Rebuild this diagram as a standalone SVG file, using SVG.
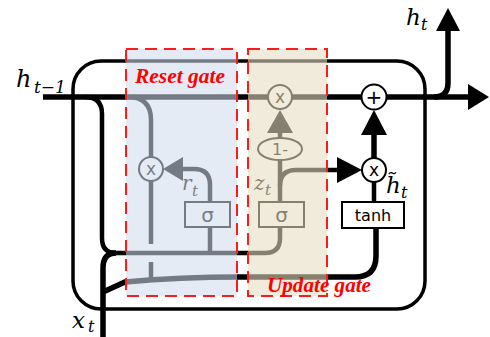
<svg xmlns="http://www.w3.org/2000/svg" width="490" height="337" viewBox="0 0 490 337">
<style>
.ln{fill:none;stroke:#000;stroke-width:4.5;stroke-linecap:butt}
.thick{stroke-width:5.5}
.box{fill:none;stroke:#000;stroke-width:3.5}
.ah{fill:#000;stroke:none}
.op{fill:#fff;stroke:#000;stroke-width:2}
.sym{font-family:"DejaVu Sans",sans-serif;fill:#000;text-anchor:middle}
.m{font-family:"DejaVu Serif",serif;font-style:italic;fill:#000}
.gt{font-family:"Liberation Serif",serif;font-style:italic;font-weight:bold;fill:#ff0000;font-size:20px}
.dash{fill:none;stroke:#ff1a1a;stroke-width:2;stroke-dasharray:12 7}
</style>
<rect width="490" height="337" fill="#fff"/>
<g id="cell">
<rect class="box" x="73" y="61" width="352" height="248" rx="28"/>
</g>
<g id="connectors">
<path class="ln thick" d="M43,97 H470"/>
<polygon class="ah" points="468,84 489,97 468,110"/>
<path class="ln thick" d="M434,97 Q448,97 448,83 V30"/>
<polygon class="ah" points="436,31 448,8 460,31"/>
<path class="ln" d="M85,97 Q102,97 102,114 V238 Q102,253 116,253"/>
<path class="ln thick" d="M103,337 V268 Q103,253 116,253"/>
<path class="ln" d="M112,253 H265 Q280,253 280,238 V227"/>
<path class="ln" d="M210,253 V227"/>
<path class="ln" d="M210,202 V185 Q210,169 194,169 H180"/>
<polygon class="ah" points="163,169 183,157 183,181"/>
<path class="ln" d="M128,97 Q151,97 151,120 V157"/>
<path class="ln" d="M151,181 V244"/>
<path class="ln" d="M151,262 V281"/>
<path class="ln thick" d="M103,292 L125,282 Q180,277 240,277 H355 Q376,277 376,256 V228"/>
<path class="ln" d="M374,202 V182"/>
<path class="ln thick" d="M374,158 V133"/>
<polygon class="ah" points="374,110 361,135 387,135"/>
<path class="ln" d="M280,138 V131"/>
<polygon class="ah" points="280,110 267,133 293,133"/>
<path class="ln" d="M280,160 V202"/>
<path class="ln" d="M280,186 Q280,170 296,170 H339"/>
<polygon class="ah" points="362,170 337,157 337,183"/>
</g>
<g id="node-reset-mult">
<circle class="op" cx="151" cy="169" r="12"/>
<text class="sym" x="151" y="175" font-size="17">x</text>
</g>
<g id="node-reset-sigma">
<rect class="op" x="185" y="202" width="45" height="25"/>
<text class="sym" x="207.5" y="222" font-size="20">σ</text>
</g>
<g id="node-update-mult">
<circle class="op" cx="280" cy="97" r="12"/>
<text class="sym" x="280" y="103" font-size="17">x</text>
</g>
<g id="node-one-minus">
<ellipse class="op" cx="280" cy="149" rx="22" ry="11"/>
<text class="sym" x="280" y="155" font-size="16">1-</text>
</g>
<g id="node-update-sigma">
<rect class="op" x="259" y="202" width="45" height="25"/>
<text class="sym" x="281.5" y="222" font-size="20">σ</text>
</g>
<g id="node-plus">
<circle class="op" cx="374" cy="97" r="12.5"/>
<text class="sym" x="374" y="104" font-size="20">+</text>
</g>
<g id="node-cand-mult">
<circle class="op" cx="374" cy="170" r="12"/>
<text class="sym" x="374" y="176" font-size="17">x</text>
</g>
<g id="node-tanh">
<rect class="op" x="342" y="202" width="62" height="26" stroke-width="2.5"/>
<text class="sym" x="373" y="221" font-size="16">tanh</text>
</g>
<g id="labels-inner">
<text class="m" x="182" y="190" font-size="20">r</text>
<text class="m" x="192" y="196" font-size="15">t</text>
<text class="m" x="254" y="190" font-size="20">z</text>
<text class="m" x="265" y="195" font-size="15">t</text>
</g>
<g id="gates">
<rect x="126" y="49" width="111" height="247" fill="#d1dcec" fill-opacity="0.56"/>
<rect x="248" y="49" width="79" height="247" fill="#e5ddc1" fill-opacity="0.58"/>
<rect class="dash" x="126" y="49" width="111" height="247"/>
<rect class="dash" x="248" y="49" width="79" height="247"/>
<text class="gt" x="135" y="83" textLength="90" lengthAdjust="spacingAndGlyphs">Reset gate</text>
<text class="gt" x="267" y="292" textLength="104" lengthAdjust="spacingAndGlyphs">Update gate</text>
</g>
<g id="labels">
<text class="m" x="16" y="87" font-size="24">h</text>
<text class="m" x="34" y="93" font-size="17">t−1</text>
<text class="m" x="406" y="25" font-size="23">h</text>
<text class="m" x="421" y="30" font-size="16">t</text>
<text class="m" x="72" y="328" font-size="23">x</text>
<text class="m" x="88" y="332" font-size="16">t</text>
<text class="m" x="386" y="193" font-size="23">h̃</text>
<text class="m" x="401" y="198" font-size="16">t</text>
</g>
</svg>
